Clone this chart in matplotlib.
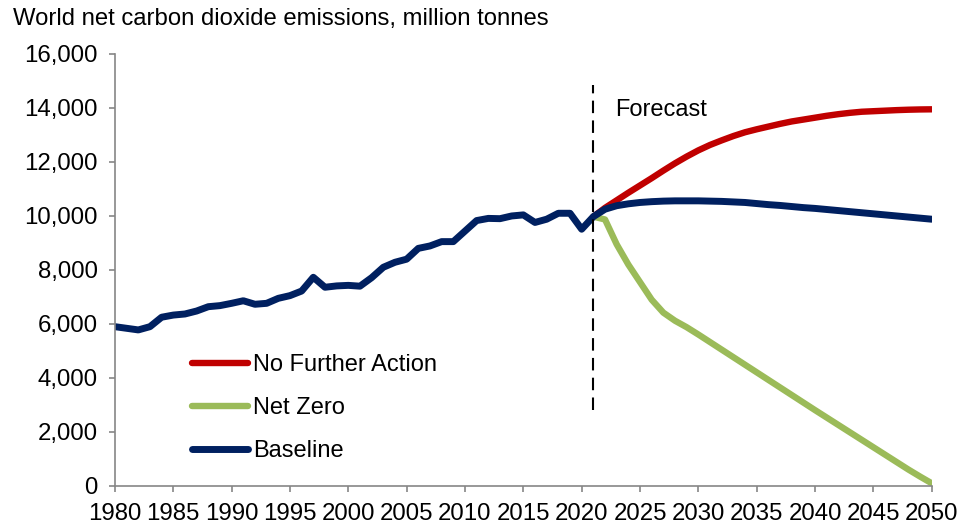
import matplotlib
matplotlib.use("Agg")
import matplotlib.pyplot as plt
from matplotlib.ticker import FuncFormatter, MultipleLocator

plt.rcParams["font.family"] = ["Liberation Sans", "DejaVu Sans"]

# Historical emissions, 1980-2021 (million tonnes)
hist_years = list(range(1980, 2022))
hist_values = [
    5900, 5840, 5780, 5900, 6250, 6330, 6370, 6480, 6640, 6680,
    6765, 6860, 6730, 6765, 6950, 7050, 7220, 7730, 7360, 7410,
    7430, 7400, 7715, 8100, 8285, 8400, 8800, 8890, 9050, 9050,
    9440, 9830, 9910, 9900, 10000, 10040, 9760, 9880, 10100, 10100,
    9510, 9975,
]

# Scenario projections, 2021-2050
proj_years = list(range(2021, 2051))
no_further_action = [
    9975, 10300, 10580, 10860, 11130, 11400, 11680, 11950, 12200, 12430,
    12630, 12800, 12960, 13100, 13210, 13310, 13410, 13500, 13570, 13640,
    13710, 13770, 13820, 13860, 13880, 13900, 13920, 13935, 13945, 13950,
]
net_zero = [
    9975, 9870, 8950, 8200, 7550, 6900, 6420, 6120, 5880, 5610,
    5330, 5050, 4770, 4490, 4210, 3930, 3650, 3370, 3090, 2810,
    2535, 2260, 1985, 1710, 1435, 1160, 885, 610, 350, 100,
]
baseline_proj = [
    9975, 10250, 10380, 10450, 10500, 10530, 10550, 10560, 10560, 10560,
    10550, 10540, 10520, 10500, 10460, 10420, 10390, 10350, 10310, 10280,
    10240, 10200, 10160, 10120, 10080, 10040, 10000, 9960, 9920, 9880,
]

baseline_years = hist_years + proj_years[1:]
baseline_values = hist_values + baseline_proj[1:]

forecast_start = 2021
x_ticks = list(range(1980, 2051, 5))

RED = "#C00000"
GREEN = "#9BBB59"
NAVY = "#002060"
GREY = "#868686"

fig = plt.figure(figsize=(9.66, 5.29), dpi=100)
ax = fig.add_axes([0.119, 0.0813, 0.8455, 0.8167])

ax.plot(proj_years, no_further_action, color=RED, lw=4.6,
        solid_capstyle="round", solid_joinstyle="round", label="No Further Action")
ax.plot(proj_years, net_zero, color=GREEN, lw=4.6,
        solid_capstyle="round", solid_joinstyle="round", label="Net Zero")
ax.plot(baseline_years, baseline_values, color=NAVY, lw=5.0,
        solid_capstyle="round", solid_joinstyle="round", label="Baseline")

ax.plot([forecast_start, forecast_start], [2800, 14850], color="black",
        lw=1.5, dashes=(6, 3.5))
ax.text(2022.9, 13930, "Forecast", fontsize=17, va="center", ha="left")

ax.set_xlim(1980, 2050)
ax.set_ylim(0, 16000)
ax.set_xticks(x_ticks)
ax.yaxis.set_major_locator(MultipleLocator(2000))
ax.yaxis.set_major_formatter(FuncFormatter(lambda v, p: f"{int(v):,}"))

for side in ("top", "right"):
    ax.spines[side].set_visible(False)
for side in ("left", "bottom"):
    ax.spines[side].set_color(GREY)
    ax.spines[side].set_linewidth(1.2)

ax.tick_params(axis="both", direction="out", length=4.5, width=1.2,
               color=GREY, labelsize=17.3, labelcolor="black")
ax.tick_params(axis="y", pad=8)
ax.tick_params(axis="x", pad=7.5)

leg = ax.legend(loc="upper left", bbox_to_anchor=(0.094, 0.306),
                frameon=False, fontsize=17, handlelength=2.4,
                handletextpad=0.2, labelspacing=0.9, borderpad=0,
                borderaxespad=0)

fig.text(0.013, 0.985, "World net carbon dioxide emissions, million tonnes",
         fontsize=17.2, va="top", ha="left")

fig.savefig("out.png", dpi=100)
